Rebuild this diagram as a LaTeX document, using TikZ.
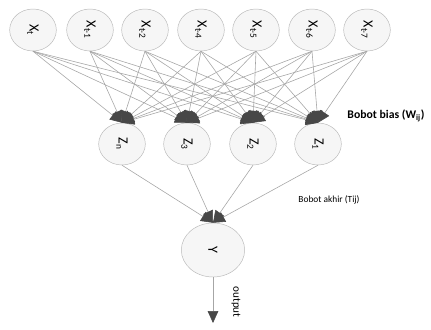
\documentclass[tikz,border=0pt]{standalone}
\usepackage{fontspec}
\setmainfont{Carlito}
\usetikzlibrary{arrows.meta, shapes.geometric}
\newcommand{\vlbl}[1]{\rotatebox{-90}{#1}}

\begin{document}
\begin{tikzpicture}[x=0.3mm, y=-0.3mm,
	neuron/.style = {ellipse, draw=gray!55, fill=gray!7, inner sep=0pt,
		minimum width=14mm, minimum height=12.6mm,
		font=\fontsize{12}{14}\selectfont},
	outneuron/.style = {neuron, minimum width=19mm, minimum height=16.2mm},
	link/.style = {draw=gray!70, line width=0.5pt,
		-{Triangle[length=3.6mm, width=3.2mm, color=black!72]}},
	lbl/.style = {inner sep=1pt}
	]
	\useasboundingbox (0,0) rectangle (431,329);
%
	\node[neuron] (x1) at ( 33,30) {\vlbl{X\textsubscript{t}}};
	\node[neuron] (x2) at ( 90,30) {\vlbl{X\textsubscript{t-1}}};
	\node[neuron] (x3) at (145,30) {\vlbl{X\textsubscript{t-2}}};
	\node[neuron] (x4) at (201,30) {\vlbl{X\textsubscript{t-4}}};
	\node[neuron] (x5) at (256,30) {\vlbl{X\textsubscript{t-5}}};
	\node[neuron] (x6) at (312,30) {\vlbl{X\textsubscript{t-6}}};
	\node[neuron] (x7) at (367,30) {\vlbl{X\textsubscript{t-7}}};
%
	\node[neuron] (zn) at (122,144) {\vlbl{Z\textsubscript{n}}};
	\node[neuron] (z3) at (187,144) {\vlbl{Z\textsubscript{3}}};
	\node[neuron] (z2) at (253,144) {\vlbl{Z\textsubscript{2}}};
	\node[neuron] (z1) at (318,144) {\vlbl{Z\textsubscript{1}}};
%
	\node[outneuron] (y) at (213,250) {\vlbl{Y}};
	\coordinate (out) at (213,323);
%
	\foreach \i in {1,...,7}
		\foreach \j in {n,3,2,1}
			\draw[link] (x\i.south) -- (z\j.north);
	\foreach \j in {n,3,2,1}
		\draw[link] (z\j.south) -- (y.north);
	\draw[link] (y.south) -- (out);
%
	\node[lbl, font=\bfseries\fontsize{10}{12}\selectfont] (bias) at (386,116)
		{Bobot bias (W\textsubscript{ij})};
	\node[lbl, font=\fontsize{8}{10}\selectfont] (akhir) at (329,200)
		{Bobot akhir (Tij)};
	\node[lbl, font=\fontsize{9.5}{11}\selectfont] (output) at (236,302)
		{\vlbl{output}};
\end{tikzpicture}
\end{document}
